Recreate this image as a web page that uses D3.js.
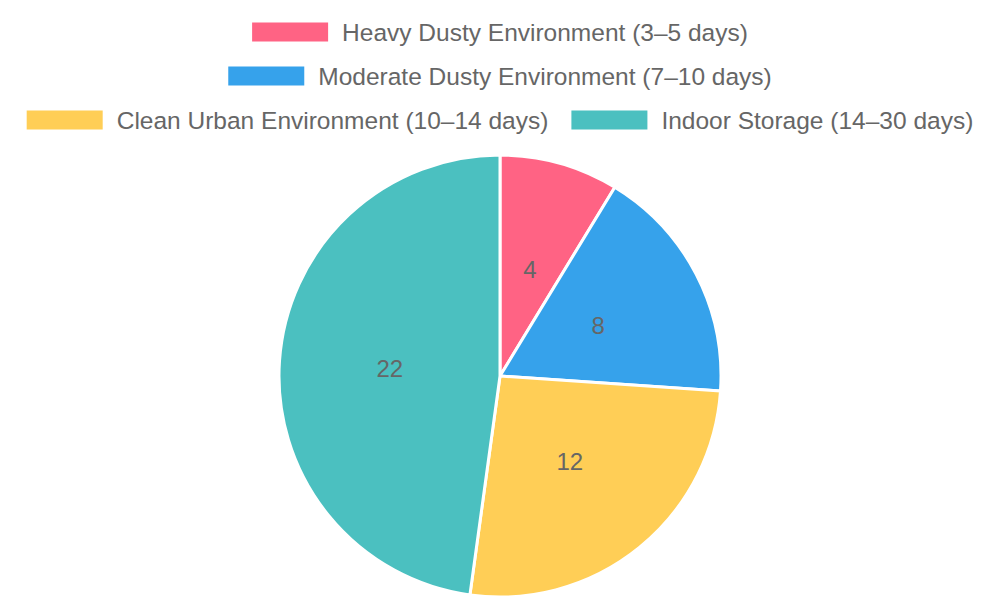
<!DOCTYPE html>
<html><head><meta charset="utf-8">
<script src="https://cdn.jsdelivr.net/npm/d3@7"></script>
<style>html,body{margin:0;padding:0;background:#fff;}svg{display:block;}</style>
</head><body>
<svg id="chart" width="1000" height="600"></svg>
<script>
const categories = ["Heavy Dusty Environment (3–5 days)","Moderate Dusty Environment (7–10 days)","Clean Urban Environment (10–14 days)","Indoor Storage (14–30 days)"];
const values = [4, 8, 12, 22];
const colors = ["#ff6384","#36a2eb","#ffce56","#4bc0c0"];

const W = 1000, H = 600;
const svg = d3.select("#chart");
const font = "Liberation Sans, Arial, sans-serif";
const fontSize = 24.5;

// legend layout
const boxW = 76, boxH = 18, boxGap = 14, itemPad = 23, rowH = 44, maxW = 980;
const measure = svg.append("text").attr("font-family", font).attr("font-size", fontSize);
const items = categories.map((c, i) => {
  measure.text(c);
  const tw = measure.node().getComputedTextLength();
  return {c, i, tw, w: boxW + boxGap + tw};
});
measure.remove();
const rows = [];
let cur = [], curW = 0;
items.forEach(it => {
  const add = cur.length ? itemPad + it.w : it.w;
  if (cur.length && curW + add > maxW) { rows.push({items: cur, w: curW}); cur = [it]; curW = it.w; }
  else { cur.push(it); curW += add; }
});
if (cur.length) rows.push({items: cur, w: curW});

const legend = svg.append("g");
rows.forEach((row, ri) => {
  let x = (W - row.w) / 2;
  const cy = 32 + ri * rowH;
  row.items.forEach(it => {
    legend.append("rect").attr("x", x).attr("y", cy - boxH / 2 - 0.5).attr("width", boxW).attr("height", boxH + 1).attr("fill", colors[it.i]);
    legend.append("text").attr("x", x + boxW + boxGap).attr("y", cy).attr("dy", "0.35em")
      .attr("font-family", font).attr("font-size", fontSize).attr("fill", "#666").text(it.c);
    x += it.w + itemPad;
  });
});

// pie
const cx = 500, cy = 376, r = 221;
const pie = d3.pie().sort(null).value(d => d)(values);
const arc = d3.arc().innerRadius(0).outerRadius(r);
const g = svg.append("g").attr("transform", `translate(${cx},${cy})`);
g.selectAll("path").data(pie).join("path")
  .attr("d", arc).attr("fill", (d, i) => colors[i])
  .attr("stroke", "#fff").attr("stroke-width", 3).attr("stroke-linejoin", "round");
g.selectAll("text.lbl").data(pie).join("text").attr("class", "lbl")
  .attr("transform", d => `translate(${arc.centroid(d)})`)
  .attr("text-anchor", "middle").attr("dy", "0.35em")
  .attr("font-family", font).attr("font-size", 24).attr("fill", "#666")
  .text(d => d.data);
</script>
</body></html>
